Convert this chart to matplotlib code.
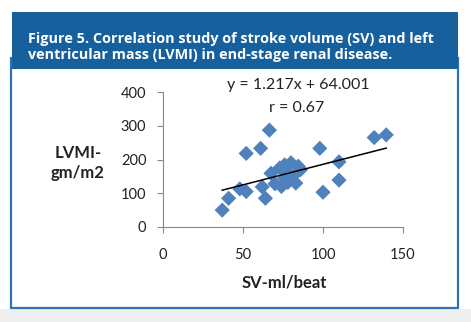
import matplotlib.pyplot as plt
import numpy as np
from matplotlib.patches import Rectangle

# data
sv = [37, 41, 48, 52, 52, 61, 62, 64, 66.5, 67.5, 70, 73, 74, 76, 76, 78,
      78, 80, 81, 83, 84.5, 86, 98, 100, 110, 110, 132, 139.5]
lvmi = [50, 85, 113, 105, 218, 233, 119, 85, 287, 159, 128, 175, 120, 184, 145, 132,
        160, 190, 150, 130, 180, 170, 233, 103, 193, 139, 265, 273]

slope, intercept = 1.217, 64.001
title = ("Figure 5. Correlation study of stroke volume (SV) and left\n"
         "ventricular mass (LVMI) in end-stage renal disease.")

W, H = 471, 322
fig = plt.figure(figsize=(W / 100, H / 100), dpi=100)
fig.patch.set_facecolor('white')

def px(x, y, w, h):
    # pixel box (top-left origin) -> figure fraction
    return (x / W, 1 - (y + h) / H), w / W, h / H

# grey strip at the bottom
xy, w, h = px(0, 309, W, 13)
fig.patches.append(Rectangle(xy, w, h, transform=fig.transFigure,
                             facecolor='#efefef', edgecolor='none', zorder=0))
# white panel with blue border
xy, w, h = px(10.5, 58, 447, 250)
fig.patches.append(Rectangle(xy, w, h, transform=fig.transFigure,
                             facecolor='white', edgecolor='#2e74b5', lw=1.6, zorder=1))
# header
xy, w, h = px(12, 12, 446, 57)
fig.patches.append(Rectangle(xy, w, h, transform=fig.transFigure,
                             facecolor='#17609e', edgecolor='none', zorder=2))
fig.text(28 / W, 1 - 47 / H, title, color='white', fontsize=10.4,
         fontweight='bold', family='Open Sans', va='center', ha='left',
         linespacing=1.1, zorder=3)

ax = fig.add_axes([163 / W, 1 - 227 / H, 240 / W, 135 / H])
ax.set_zorder(5)
ax.patch.set_alpha(0)
ax.scatter(sv, lvmi, marker='D', s=60, color='#4f81bd', edgecolors='none', zorder=3)
xs = np.array([min(sv), max(sv)])
ax.plot(xs, slope * xs + intercept, color='black', lw=1.1, zorder=4)

ax.set_xlim(0, 150)
ax.set_ylim(0, 400)
ax.set_xticks([0, 50, 100, 150])
ax.set_yticks([0, 100, 200, 300, 400])
for s in ['top', 'right']:
    ax.spines[s].set_visible(False)
for s in ['left', 'bottom']:
    ax.spines[s].set_color('#888888')
    ax.spines[s].set_linewidth(0.8)
ax.tick_params(colors='#888888', length=4, width=0.8, labelsize=10.5,
               labelcolor='#222222')
ax.tick_params(axis='x', pad=11)
ax.tick_params(axis='y', pad=8)
for lab in ax.get_xticklabels() + ax.get_yticklabels():
    lab.set_family('Lato')

fig.text(298 / W, 1 - 85 / H, f"y = {slope}x + {intercept:.3f}", ha='center',
         va='center', fontsize=11.5, family='Lato', color='#222222', zorder=6)
fig.text(297 / W, 1 - 108 / H, "r = 0.67", ha='center', va='center',
         fontsize=11.5, family='Lato', color='#222222', zorder=6)
fig.text(78 / W, 1 - 163 / H, "LVMI-\ngm/m2", ha='center', va='center',
         fontsize=12, family='Lato', fontweight='bold', color='#222222',
         linespacing=1.3, zorder=6)
fig.text(284 / W, 1 - 283 / H, "SV-ml/beat", ha='center', va='center',
         fontsize=12, family='Lato', fontweight='bold', color='#222222', zorder=6)

fig.savefig('out.png', dpi=100)
